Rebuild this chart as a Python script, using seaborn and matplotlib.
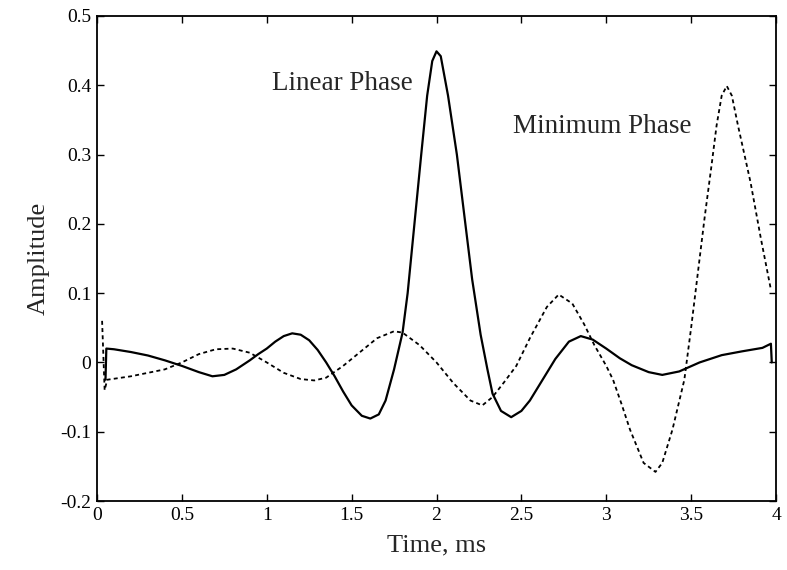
import matplotlib
matplotlib.use("Agg")
import matplotlib.pyplot as plt
import seaborn as sns
import pandas as pd

# ---- data ----
linear_t = [0.05, 0.055, 0.1, 0.2, 0.3, 0.4, 0.5, 0.6, 0.68, 0.75, 0.82, 0.9, 0.95, 1.0, 1.05,
            1.1, 1.15, 1.2, 1.25, 1.3, 1.35, 1.4, 1.45, 1.5, 1.56, 1.61, 1.66, 1.7, 1.75, 1.8,
            1.83, 1.87, 1.91, 1.945, 1.975, 2.0, 2.025, 2.068, 2.12, 2.17, 2.21, 2.26, 2.3,
            2.33, 2.38, 2.44, 2.5, 2.55, 2.6, 2.7, 2.78, 2.85, 2.92, 3.0, 3.08, 3.15, 3.25,
            3.33, 3.43, 3.55, 3.68, 3.8, 3.92, 3.97, 3.975]
linear_a = [-0.025, 0.02, 0.019, 0.015, 0.01, 0.003, -0.005, -0.014, -0.02, -0.018, -0.01,
            0.003, 0.012, 0.02, 0.03, 0.038, 0.042, 0.04, 0.032, 0.018, 0.0, -0.02, -0.042,
            -0.062, -0.077, -0.081, -0.075, -0.055, -0.01, 0.043, 0.1, 0.2, 0.3, 0.385, 0.435,
            0.449, 0.442, 0.385, 0.3, 0.2, 0.12, 0.04, -0.01, -0.045, -0.07, -0.079, -0.07,
            -0.055, -0.035, 0.005, 0.03, 0.038, 0.033, 0.02, 0.006, -0.004, -0.014, -0.018,
            -0.013, 0.0, 0.0105, 0.016, 0.021, 0.027, 0.0]

minimum_t = [0.03, 0.045, 0.06, 0.2, 0.3, 0.4, 0.5, 0.6, 0.7, 0.8, 0.9, 1.0, 1.1, 1.2, 1.28,
             1.35, 1.45, 1.55, 1.65, 1.75, 1.8, 1.9, 2.0, 2.1, 2.2, 2.27, 2.33, 2.4, 2.47,
             2.55, 2.65, 2.72, 2.8, 2.87, 2.93, 3.0, 3.04, 3.09, 3.14, 3.22, 3.29, 3.33, 3.39,
             3.46, 3.5, 3.55, 3.58, 3.62, 3.65, 3.68, 3.71, 3.74, 3.776, 3.85, 3.91, 3.97]
minimum_a = [0.06, -0.04, -0.025, -0.02, -0.015, -0.01, 0.0, 0.012, 0.019, 0.02, 0.014, 0.0,
             -0.015, -0.024, -0.026, -0.022, -0.005, 0.015, 0.035, 0.045, 0.043, 0.025, 0.0,
             -0.03, -0.055, -0.062, -0.05, -0.028, -0.005, 0.035, 0.08, 0.098, 0.085, 0.055,
             0.025, -0.005, -0.025, -0.06, -0.097, -0.145, -0.158, -0.145, -0.097, -0.025,
             0.05, 0.15, 0.21, 0.284, 0.342, 0.385, 0.399, 0.385, 0.342, 0.26, 0.18, 0.105]

x_ticks = [0, 0.5, 1, 1.5, 2, 2.5, 3, 3.5, 4]
x_tick_labels = ["0", "0.5", "1", "1.5", "2", "2.5", "3", "3.5", "4"]
y_ticks = [-0.2, -0.1, 0, 0.1, 0.2, 0.3, 0.4, 0.5]
y_tick_labels = ["-0.2", "-0.1", "0", "0.1", "0.2", "0.3", "0.4", "0.5"]

# ---- style ----
sns.set_style("ticks")
plt.rcParams["font.family"] = ["Liberation Serif", "DejaVu Serif"]
plt.rcParams["xtick.direction"] = "in"
plt.rcParams["ytick.direction"] = "in"

fig = plt.figure(figsize=(7.87, 5.70), dpi=100)
ax = fig.add_axes([97 / 787, 1 - 501 / 570, 679 / 787, 485 / 570])

df_lin = pd.DataFrame({"t": linear_t, "a": linear_a})
df_min = pd.DataFrame({"t": minimum_t, "a": minimum_a})

sns.lineplot(data=df_lin, x="t", y="a", ax=ax, sort=False, estimator=None,
             color="black", linewidth=1.6)
sns.lineplot(data=df_min, x="t", y="a", ax=ax, sort=False, estimator=None,
             color="black", linewidth=1.3, linestyle=(0, (2.2, 1.8)))

ax.set_xlim(0, 4)
ax.set_ylim(-0.2, 0.5)
ax.set_xticks(x_ticks)
ax.set_xticklabels(x_tick_labels)
ax.set_yticks(y_ticks)
ax.set_yticklabels(y_tick_labels)
ax.tick_params(axis="both", which="both", direction="in", top=True, right=True,
               length=5, width=1, labelsize=14, colors="black", pad=4)
for s in ax.spines.values():
    s.set_visible(True)
    s.set_linewidth(1.3)
    s.set_color("black")

ax.set_xlabel("Time, ms", fontsize=19, labelpad=8)
ax.set_ylabel("Amplitude", fontsize=19, labelpad=8)

ax.text(1.03, 0.403, "Linear Phase", fontsize=19.5, va="center", ha="left")
ax.text(2.45, 0.34, "Minimum Phase", fontsize=19.5, va="center", ha="left")

fig.savefig("out.png", dpi=100)
